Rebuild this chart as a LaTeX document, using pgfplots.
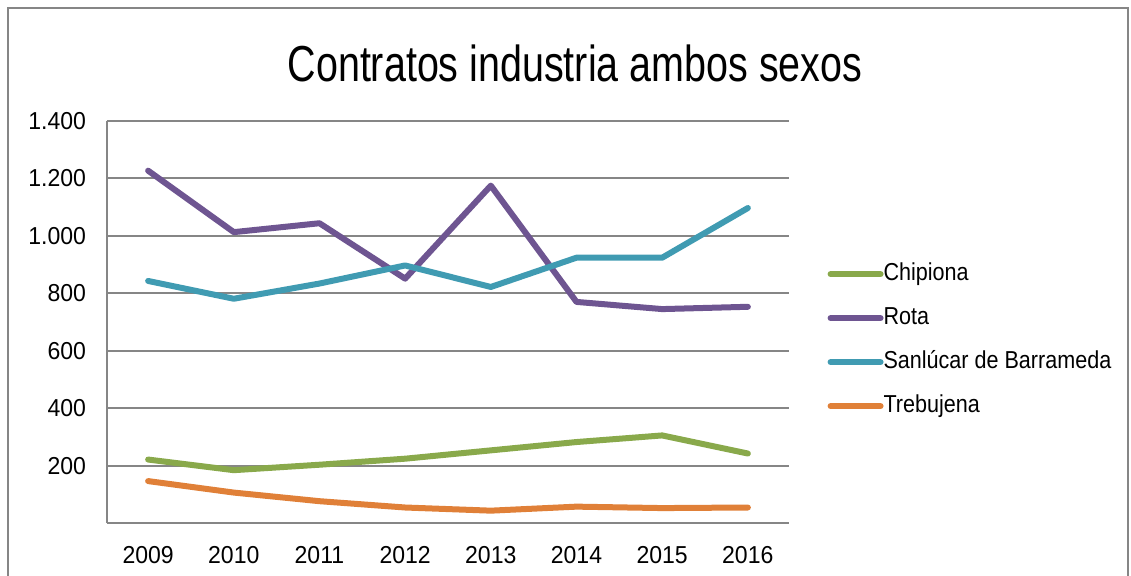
\documentclass[border=0pt]{standalone}
\usepackage{fontspec}
\setmainfont[FakeStretch=0.88]{Liberation Sans}
\newfontfamily\titlefont[FakeStretch=0.78]{Liberation Sans}
\newfontfamily\tickfont[FakeStretch=0.94]{Liberation Sans}
\usepackage{pgfplots}
\pgfplotsset{compat=1.18}
\definecolor{cgreen}{RGB}{137,169,75}
\definecolor{cpurple}{RGB}{110,85,145}
\definecolor{cteal}{RGB}{64,155,178}
\definecolor{corange}{RGB}{224,128,56}
\definecolor{cgrid}{RGB}{134,134,134}
\begin{document}
\begin{tikzpicture}
\useasboundingbox (0pt,0pt) rectangle (565.5pt,-287.5pt);
\draw[cgrid, line width=0.8pt] (4pt,-300pt) -- (4pt,-4pt) -- (564pt,-4pt) -- (564pt,-300pt);
\node[font={\titlefont\fontsize{25.3}{30}\selectfont}] at (287.5pt,-31.5pt) {Contratos industria ambos sexos};
\begin{axis}[
  at={(53.5pt,-261.5pt)}, anchor=south west,
  width=341pt, height=201pt, scale only axis,
  xmin=2008.52, xmax=2016.48, ymin=0, ymax=1400,
  axis x line=bottom, axis y line=left,
  axis line style={cgrid, line width=1pt, -},
  xtick={2009,...,2016}, ytick={200,400,...,1400},
  major tick length=0pt,
  ymajorgrids, grid style={cgrid, line width=1pt},
  x tick label style={/pgf/number format/1000 sep={}, yshift=-8pt},
  y tick label style={/pgf/number format/1000 sep={.}, xshift=-7pt},
  /pgf/number format/assume math mode=true,
  tick label style={font=\tickfont\fontsize{12.25}{14}\selectfont, text=black},
  every axis plot/.append style={line width=3pt, line cap=round, line join=round},
  legend style={at={(1.056,0.455)}, anchor=west, draw=none, fill=none,
    inner sep=0pt, row sep=10pt,
    font=\fontsize{12.25}{14}\selectfont,
    nodes={inner sep=0pt, text height=9pt, text depth=3pt}},
  legend cell align=left,
  legend image code/.code={\draw[#1, line width=3pt, line cap=round] (0pt,0pt) -- (25pt,0pt);},
  /tikz/every even column/.append style={column sep=3pt},
  clip=false,
]
\addplot[cgreen] coordinates {(2009,221) (2010,184) (2011,203) (2012,224) (2013,253) (2014,282) (2015,305) (2016,242)};
\addlegendentry{Chipiona}
\addplot[cpurple] coordinates {(2009,1227) (2010,1013) (2011,1044) (2012,851) (2013,1175) (2014,770) (2015,745) (2016,753)};
\addlegendentry{Rota}
\addplot[cteal] coordinates {(2009,843) (2010,781) (2011,834) (2012,897) (2013,822) (2014,924) (2015,924) (2016,1097)};
\addlegendentry{Sanlúcar de Barrameda}
\addplot[corange] coordinates {(2009,146) (2010,106) (2011,76) (2012,54) (2013,43) (2014,57) (2015,52) (2016,54)};
\addlegendentry{Trebujena}
\end{axis}
\end{tikzpicture}
\end{document}
